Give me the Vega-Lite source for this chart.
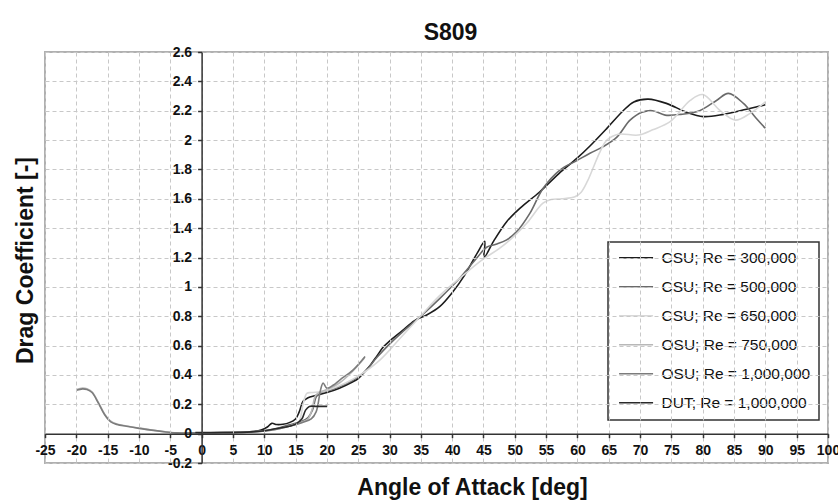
{
  "$schema": "https://vega.github.io/schema/vega-lite/v6.json",
  "width": 783,
  "height": 411,
  "autosize": "none",
  "padding": {"left": 45, "top": 52, "right": 10, "bottom": 38},
  "background": "white",
  "config": {"view": {"stroke": "#b0b0b0", "strokeWidth": 2}, "legend": {"strokeWidth": 1.5}},
  "title": {"text": "S809", "fontSize": 23, "font": "Liberation Sans", "fontWeight": "bold", "color": "#111111", "anchor": "middle", "frame": "group", "baseline": "alphabetic", "offset": 17, "dx": 14, "dy": 35},
  "data": {"values": [
    {"s":"CSU; Re = 300,000","a":0,"c":0.006},{"s":"CSU; Re = 300,000","a":2,"c":0.006},{"s":"CSU; Re = 300,000","a":4,"c":0.007},{"s":"CSU; Re = 300,000","a":6,"c":0.009},{"s":"CSU; Re = 300,000","a":8,"c":0.014},{"s":"CSU; Re = 300,000","a":9.5,"c":0.025},{"s":"CSU; Re = 300,000","a":10.5,"c":0.045},{"s":"CSU; Re = 300,000","a":11.2,"c":0.07},{"s":"CSU; Re = 300,000","a":12,"c":0.062},{"s":"CSU; Re = 300,000","a":13,"c":0.064},{"s":"CSU; Re = 300,000","a":14,"c":0.075},{"s":"CSU; Re = 300,000","a":15,"c":0.1},{"s":"CSU; Re = 300,000","a":15.6,"c":0.15},{"s":"CSU; Re = 300,000","a":16.2,"c":0.22},{"s":"CSU; Re = 300,000","a":17,"c":0.245},{"s":"CSU; Re = 300,000","a":18,"c":0.258},{"s":"CSU; Re = 300,000","a":19,"c":0.268},{"s":"CSU; Re = 300,000","a":20,"c":0.28},{"s":"CSU; Re = 300,000","a":22,"c":0.31},{"s":"CSU; Re = 300,000","a":24,"c":0.35},{"s":"CSU; Re = 300,000","a":25,"c":0.375},{"s":"CSU; Re = 300,000","a":26,"c":0.42},{"s":"CSU; Re = 300,000","a":27,"c":0.47},{"s":"CSU; Re = 300,000","a":28,"c":0.53},{"s":"CSU; Re = 300,000","a":29,"c":0.59},{"s":"CSU; Re = 300,000","a":30,"c":0.63},{"s":"CSU; Re = 300,000","a":32,"c":0.7},{"s":"CSU; Re = 300,000","a":34,"c":0.77},{"s":"CSU; Re = 300,000","a":36,"c":0.81},{"s":"CSU; Re = 300,000","a":38,"c":0.865},{"s":"CSU; Re = 300,000","a":40,"c":0.96},{"s":"CSU; Re = 300,000","a":42,"c":1.08},{"s":"CSU; Re = 300,000","a":44,"c":1.23},{"s":"CSU; Re = 300,000","a":45.2,"c":1.31},{"s":"CSU; Re = 300,000","a":45.1,"c":1.2},{"s":"CSU; Re = 300,000","a":46.6,"c":1.31},{"s":"CSU; Re = 300,000","a":48.7,"c":1.444},{"s":"CSU; Re = 300,000","a":50.8,"c":1.535},{"s":"CSU; Re = 300,000","a":54,"c":1.648},{"s":"CSU; Re = 300,000","a":57,"c":1.77},{"s":"CSU; Re = 300,000","a":59.9,"c":1.875},{"s":"CSU; Re = 300,000","a":62,"c":1.96},{"s":"CSU; Re = 300,000","a":64.7,"c":2.08},{"s":"CSU; Re = 300,000","a":67.3,"c":2.2},{"s":"CSU; Re = 300,000","a":69,"c":2.26},{"s":"CSU; Re = 300,000","a":71.3,"c":2.279},{"s":"CSU; Re = 300,000","a":74.2,"c":2.25},{"s":"CSU; Re = 300,000","a":77.4,"c":2.19},{"s":"CSU; Re = 300,000","a":80.1,"c":2.16},{"s":"CSU; Re = 300,000","a":83.3,"c":2.175},{"s":"CSU; Re = 300,000","a":87,"c":2.21},{"s":"CSU; Re = 300,000","a":90,"c":2.24},

    {"s":"CSU; Re = 500,000","a":0,"c":0.006},{"s":"CSU; Re = 500,000","a":4,"c":0.007},{"s":"CSU; Re = 500,000","a":8,"c":0.012},{"s":"CSU; Re = 500,000","a":10,"c":0.02},{"s":"CSU; Re = 500,000","a":12,"c":0.035},{"s":"CSU; Re = 500,000","a":14,"c":0.06},{"s":"CSU; Re = 500,000","a":16,"c":0.085},{"s":"CSU; Re = 500,000","a":17,"c":0.11},{"s":"CSU; Re = 500,000","a":17.7,"c":0.16},{"s":"CSU; Re = 500,000","a":18.3,"c":0.25},{"s":"CSU; Re = 500,000","a":19,"c":0.28},{"s":"CSU; Re = 500,000","a":20,"c":0.29},{"s":"CSU; Re = 500,000","a":22,"c":0.32},{"s":"CSU; Re = 500,000","a":24,"c":0.36},{"s":"CSU; Re = 500,000","a":26,"c":0.42},{"s":"CSU; Re = 500,000","a":28,"c":0.52},{"s":"CSU; Re = 500,000","a":30,"c":0.61},{"s":"CSU; Re = 500,000","a":32,"c":0.69},{"s":"CSU; Re = 500,000","a":35,"c":0.8},{"s":"CSU; Re = 500,000","a":38,"c":0.92},{"s":"CSU; Re = 500,000","a":41,"c":1.05},{"s":"CSU; Re = 500,000","a":44,"c":1.2},{"s":"CSU; Re = 500,000","a":45.5,"c":1.27},{"s":"CSU; Re = 500,000","a":47,"c":1.29},{"s":"CSU; Re = 500,000","a":48.7,"c":1.32},{"s":"CSU; Re = 500,000","a":50.3,"c":1.376},{"s":"CSU; Re = 500,000","a":52.4,"c":1.501},{"s":"CSU; Re = 500,000","a":54.5,"c":1.67},{"s":"CSU; Re = 500,000","a":57.2,"c":1.796},{"s":"CSU; Re = 500,000","a":59.9,"c":1.86},{"s":"CSU; Re = 500,000","a":62,"c":1.91},{"s":"CSU; Re = 500,000","a":64.1,"c":1.955},{"s":"CSU; Re = 500,000","a":66.3,"c":2.02},{"s":"CSU; Re = 500,000","a":68.4,"c":2.136},{"s":"CSU; Re = 500,000","a":70.3,"c":2.19},{"s":"CSU; Re = 500,000","a":72,"c":2.2},{"s":"CSU; Re = 500,000","a":74,"c":2.17},{"s":"CSU; Re = 500,000","a":76.5,"c":2.175},{"s":"CSU; Re = 500,000","a":79.5,"c":2.2},{"s":"CSU; Re = 500,000","a":82.2,"c":2.27},{"s":"CSU; Re = 500,000","a":84.1,"c":2.318},{"s":"CSU; Re = 500,000","a":86.5,"c":2.25},{"s":"CSU; Re = 500,000","a":88.5,"c":2.15},{"s":"CSU; Re = 500,000","a":90,"c":2.08},

    {"s":"CSU; Re = 650,000","a":0,"c":0.006},{"s":"CSU; Re = 650,000","a":4,"c":0.007},{"s":"CSU; Re = 650,000","a":8,"c":0.012},{"s":"CSU; Re = 650,000","a":10,"c":0.018},{"s":"CSU; Re = 650,000","a":12,"c":0.03},{"s":"CSU; Re = 650,000","a":14,"c":0.05},{"s":"CSU; Re = 650,000","a":15.5,"c":0.08},{"s":"CSU; Re = 650,000","a":16.2,"c":0.2},{"s":"CSU; Re = 650,000","a":16.8,"c":0.275},{"s":"CSU; Re = 650,000","a":17.5,"c":0.28},{"s":"CSU; Re = 650,000","a":19.4,"c":0.288},{"s":"CSU; Re = 650,000","a":21,"c":0.31},{"s":"CSU; Re = 650,000","a":23,"c":0.345},{"s":"CSU; Re = 650,000","a":25.3,"c":0.4},{"s":"CSU; Re = 650,000","a":28.5,"c":0.503},{"s":"CSU; Re = 650,000","a":31.7,"c":0.65},{"s":"CSU; Re = 650,000","a":34.9,"c":0.798},{"s":"CSU; Re = 650,000","a":38,"c":0.94},{"s":"CSU; Re = 650,000","a":41.8,"c":1.08},{"s":"CSU; Re = 650,000","a":45,"c":1.19},{"s":"CSU; Re = 650,000","a":47.5,"c":1.26},{"s":"CSU; Re = 650,000","a":49.8,"c":1.342},{"s":"CSU; Re = 650,000","a":51.9,"c":1.433},{"s":"CSU; Re = 650,000","a":54.5,"c":1.57},{"s":"CSU; Re = 650,000","a":55.8,"c":1.595},{"s":"CSU; Re = 650,000","a":57.5,"c":1.6},{"s":"CSU; Re = 650,000","a":59.6,"c":1.614},{"s":"CSU; Re = 650,000","a":60.6,"c":1.645},{"s":"CSU; Re = 650,000","a":61.6,"c":1.72},{"s":"CSU; Re = 650,000","a":62.6,"c":1.82},{"s":"CSU; Re = 650,000","a":63.6,"c":1.92},{"s":"CSU; Re = 650,000","a":64.7,"c":2.0},{"s":"CSU; Re = 650,000","a":66.5,"c":2.04},{"s":"CSU; Re = 650,000","a":69.7,"c":2.034},{"s":"CSU; Re = 650,000","a":72,"c":2.07},{"s":"CSU; Re = 650,000","a":74.8,"c":2.125},{"s":"CSU; Re = 650,000","a":78,"c":2.27},{"s":"CSU; Re = 650,000","a":80,"c":2.31},{"s":"CSU; Re = 650,000","a":82.8,"c":2.2},{"s":"CSU; Re = 650,000","a":85.2,"c":2.136},{"s":"CSU; Re = 650,000","a":87.5,"c":2.18},{"s":"CSU; Re = 650,000","a":90,"c":2.26},

    {"s":"OSU; Re = 750,000","a":-20,"c":0.3},{"s":"OSU; Re = 750,000","a":-19,"c":0.31},{"s":"OSU; Re = 750,000","a":-18.3,"c":0.305},{"s":"OSU; Re = 750,000","a":-17.5,"c":0.285},{"s":"OSU; Re = 750,000","a":-16.5,"c":0.215},{"s":"OSU; Re = 750,000","a":-15.5,"c":0.135},{"s":"OSU; Re = 750,000","a":-14.5,"c":0.085},{"s":"OSU; Re = 750,000","a":-13.5,"c":0.065},{"s":"OSU; Re = 750,000","a":-12,"c":0.052},{"s":"OSU; Re = 750,000","a":-10,"c":0.038},{"s":"OSU; Re = 750,000","a":-8,"c":0.025},{"s":"OSU; Re = 750,000","a":-6,"c":0.014},{"s":"OSU; Re = 750,000","a":-4,"c":0.006},{"s":"OSU; Re = 750,000","a":-2,"c":0.005},{"s":"OSU; Re = 750,000","a":0,"c":0.006},{"s":"OSU; Re = 750,000","a":4,"c":0.007},{"s":"OSU; Re = 750,000","a":8,"c":0.012},{"s":"OSU; Re = 750,000","a":10,"c":0.018},{"s":"OSU; Re = 750,000","a":12,"c":0.03},{"s":"OSU; Re = 750,000","a":14,"c":0.05},{"s":"OSU; Re = 750,000","a":16,"c":0.08},{"s":"OSU; Re = 750,000","a":17,"c":0.1},{"s":"OSU; Re = 750,000","a":17.6,"c":0.16},{"s":"OSU; Re = 750,000","a":18.2,"c":0.26},{"s":"OSU; Re = 750,000","a":19,"c":0.285},{"s":"OSU; Re = 750,000","a":20,"c":0.3},{"s":"OSU; Re = 750,000","a":22,"c":0.345},{"s":"OSU; Re = 750,000","a":24,"c":0.42},{"s":"OSU; Re = 750,000","a":26,"c":0.515},

    {"s":"OSU; Re = 1,000,000","a":-20,"c":0.295},{"s":"OSU; Re = 1,000,000","a":-19,"c":0.305},{"s":"OSU; Re = 1,000,000","a":-18.3,"c":0.3},{"s":"OSU; Re = 1,000,000","a":-17.5,"c":0.28},{"s":"OSU; Re = 1,000,000","a":-16.5,"c":0.21},{"s":"OSU; Re = 1,000,000","a":-15.5,"c":0.13},{"s":"OSU; Re = 1,000,000","a":-14.5,"c":0.08},{"s":"OSU; Re = 1,000,000","a":-13.5,"c":0.062},{"s":"OSU; Re = 1,000,000","a":-12,"c":0.05},{"s":"OSU; Re = 1,000,000","a":-10,"c":0.036},{"s":"OSU; Re = 1,000,000","a":-8,"c":0.024},{"s":"OSU; Re = 1,000,000","a":-6,"c":0.013},{"s":"OSU; Re = 1,000,000","a":-4,"c":0.005},{"s":"OSU; Re = 1,000,000","a":-2,"c":0.005},{"s":"OSU; Re = 1,000,000","a":0,"c":0.006},{"s":"OSU; Re = 1,000,000","a":4,"c":0.007},{"s":"OSU; Re = 1,000,000","a":8,"c":0.012},{"s":"OSU; Re = 1,000,000","a":10,"c":0.018},{"s":"OSU; Re = 1,000,000","a":12,"c":0.03},{"s":"OSU; Re = 1,000,000","a":14,"c":0.05},{"s":"OSU; Re = 1,000,000","a":16,"c":0.075},{"s":"OSU; Re = 1,000,000","a":17.5,"c":0.1},{"s":"OSU; Re = 1,000,000","a":18.3,"c":0.15},{"s":"OSU; Re = 1,000,000","a":19,"c":0.3},{"s":"OSU; Re = 1,000,000","a":19.4,"c":0.345},{"s":"OSU; Re = 1,000,000","a":20,"c":0.31},{"s":"OSU; Re = 1,000,000","a":21,"c":0.33},{"s":"OSU; Re = 1,000,000","a":22.1,"c":0.367},{"s":"OSU; Re = 1,000,000","a":24.2,"c":0.435},{"s":"OSU; Re = 1,000,000","a":26.1,"c":0.526},

    {"s":"DUT; Re = 1,000,000","a":-1,"c":0.008},{"s":"DUT; Re = 1,000,000","a":0,"c":0.007},{"s":"DUT; Re = 1,000,000","a":2,"c":0.007},{"s":"DUT; Re = 1,000,000","a":4,"c":0.008},{"s":"DUT; Re = 1,000,000","a":6,"c":0.009},{"s":"DUT; Re = 1,000,000","a":8,"c":0.012},{"s":"DUT; Re = 1,000,000","a":10,"c":0.02},{"s":"DUT; Re = 1,000,000","a":12,"c":0.035},{"s":"DUT; Re = 1,000,000","a":14,"c":0.05},{"s":"DUT; Re = 1,000,000","a":15,"c":0.065},{"s":"DUT; Re = 1,000,000","a":16,"c":0.1},{"s":"DUT; Re = 1,000,000","a":16.6,"c":0.16},{"s":"DUT; Re = 1,000,000","a":17.2,"c":0.185},{"s":"DUT; Re = 1,000,000","a":18.2,"c":0.186},{"s":"DUT; Re = 1,000,000","a":19.2,"c":0.186},{"s":"DUT; Re = 1,000,000","a":20.05,"c":0.186}
  ]},
  "mark": {"type": "line", "interpolate": "catmull-rom", "strokeWidth": 1.6},
  "encoding": {
    "x": {"field": "a", "type": "quantitative", "scale": {"domain": [-25, 100], "nice": false, "zero": false},
      "axis": {"title": "Angle of Attack [deg]", "values": [-25,-20,-15,-10,-5,0,5,10,15,20,25,30,35,40,45,50,55,60,65,70,75,80,85,90,95,100],
        "offset": -29.357, "grid": true, "gridColor": "#c8c8c8", "gridDash": [4,3], "gridWidth": 1,
        "domainColor": "#333333", "domainWidth": 1.5, "tickColor": "#333333", "tickSize": 4, "tickWidth": 1.5,
        "format": "~r", "labelExpr": "replace(datum.label, '\u2212', '-')",
        "labelFont": "Liberation Sans", "labelFontSize": 14, "labelFontWeight": "bold", "labelColor": "#111111", "labelPadding": 6, "labelFlush": false, "labelOverlap": false,
        "titleFont": "Liberation Sans", "titleFontSize": 23, "titleFontWeight": "bold", "titleColor": "#111111", "titleX": 427, "titleY": 61, "titleBaseline": "alphabetic", "titleAlign": "center", "zindex": 1}},
    "y": {"field": "c", "type": "quantitative", "scale": {"domain": [-0.2, 2.6], "nice": false},
      "axis": {"title": "Drag Coefficient [-]", "values": [-0.2,0,0.2,0.4,0.6,0.8,1,1.2,1.4,1.6,1.8,2,2.2,2.4,2.6],
        "offset": -156.6, "grid": true, "gridColor": "#c8c8c8", "gridDash": [4,3], "gridWidth": 1,
        "domainColor": "#333333", "domainWidth": 1.5, "tickColor": "#333333", "tickSize": 4, "tickWidth": 1.5,
        "format": "~r", "labelExpr": "replace(datum.label, '\u2212', '-')",
        "labelFont": "Liberation Sans", "labelFontSize": 14, "labelFontWeight": "bold", "labelColor": "#111111", "labelPadding": 6, "labelOverlap": false, "labelFlush": false,
        "titleFont": "Liberation Sans", "titleFontSize": 23, "titleFontWeight": "bold", "titleColor": "#111111", "titleX": -169.6, "titleY": 208, "titleAngle": 270, "titleBaseline": "alphabetic", "titleAlign": "center", "zindex": 1}},
    "color": {"field": "s", "type": "nominal",
      "scale": {"domain": ["CSU; Re = 300,000","CSU; Re = 500,000","CSU; Re = 650,000","OSU; Re = 750,000","OSU; Re = 1,000,000","DUT; Re = 1,000,000"],
        "range": ["#1c1c1c","#6a6a6a","#d8d8d8","#b8b8b8","#7c7c7c","#2a2a2a"]},
      "legend": {"title": null, "orient": "none", "legendX": 563, "legendY": 190, "symbolType": "M-1.1,0H6.9", "symbolSize": 72.25, "symbolStrokeWidth": 1.6,
        "labelFont": "Liberation Sans", "labelFontSize": 15.5, "labelColor": "#111111", "labelOffset": 30, "rowPadding": 12, "padding": 8,
        "strokeColor": "#333333", "fillColor": "white", "labelLimit": 300}},
    "order": {"value": null}
  }
}
